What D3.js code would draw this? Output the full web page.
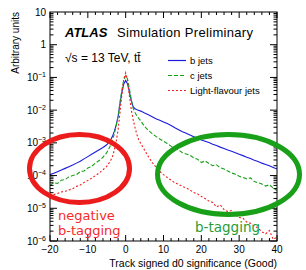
<!DOCTYPE html>
<html>
<head>
<meta charset="utf-8">
<script src="https://cdn.jsdelivr.net/npm/d3@7"></script>
<style>
body { margin: 0; background: #fff; }
text { font-family: "Liberation Sans", Arial, sans-serif; }
</style>
</head>
<body>
<script>
var width = 306;
var height = 270;

// track signed d0 significance, bin positions
var d0 = [-20,-19,-18,-17,-16,-15,-14,-13,-12,-11,-10,-9,-8,-7,-6,-5,-4,
  -3.5,-3,-2.5,-2,-1.5,-1,-0.5,0,0.5,1,1.5,2,2.5,3,3.5,
  4,5,6,7,8,9,10,11,12,13,14,15,16,17,18,19,20,21,22,23,24,25,26,27,28,29,30,31,32,33,34,35,36,37,38,39,40];

var bJets = [1.07e-4,1.17e-4,1.32e-4,1.48e-4,1.66e-4,1.86e-4,2.09e-4,2.40e-4,2.75e-4,3.24e-4,3.80e-4,4.47e-4,5.25e-4,6.17e-4,7.24e-4,8.71e-4,1.20e-3,
  1.58e-3,2.24e-3,3.55e-3,6.31e-3,1.58e-2,3.55e-2,6.31e-2,8.13e-2,6.31e-2,3.55e-2,1.91e-2,1.26e-2,1.10e-2,1.02e-2,9.77e-3,
  9.33e-3,8.13e-3,7.24e-3,6.31e-3,5.50e-3,4.90e-3,4.37e-3,3.89e-3,3.39e-3,2.88e-3,2.51e-3,2.19e-3,1.95e-3,1.74e-3,1.55e-3,1.38e-3,1.23e-3,1.12e-3,1.02e-3,9.12e-4,8.32e-4,7.41e-4,6.76e-4,6.03e-4,5.50e-4,5.01e-4,4.47e-4,4.07e-4,3.63e-4,3.31e-4,2.95e-4,2.69e-4,2.40e-4,2.19e-4,2.00e-4,1.78e-4,1.58e-4];

var cJets = [5.01e-5,6.03e-5,5.75e-5,7.24e-5,7.59e-5,9.12e-5,1.00e-4,1.07e-4,1.32e-4,1.38e-4,1.70e-4,1.91e-4,2.40e-4,2.88e-4,3.63e-4,5.01e-4,8.32e-4,
  1.20e-3,1.91e-3,3.31e-3,6.61e-3,1.74e-2,4.17e-2,8.32e-2,1.15e-1,8.91e-2,4.47e-2,2.00e-2,1.12e-2,8.32e-3,6.61e-3,5.50e-3,
  4.68e-3,3.16e-3,2.40e-3,1.91e-3,1.58e-3,1.32e-3,1.12e-3,9.55e-4,7.94e-4,6.76e-4,6.03e-4,5.01e-4,4.57e-4,4.17e-4,3.47e-4,3.16e-4,2.51e-4,2.82e-4,2.34e-4,2.00e-4,2.14e-4,1.74e-4,1.58e-4,1.38e-4,1.20e-4,1.10e-4,9.55e-5,8.71e-5,7.94e-5,8.51e-5,6.61e-5,6.03e-5,5.50e-5,4.79e-5,5.25e-5,4.17e-5,3.47e-5];

var lightJets = [2.29e-5,2.63e-5,2.82e-5,3.16e-5,3.31e-5,3.63e-5,3.98e-5,4.68e-5,5.13e-5,6.17e-5,7.08e-5,8.32e-5,1.00e-4,1.20e-4,1.51e-4,1.91e-4,2.82e-4,
  3.80e-4,6.03e-4,1.12e-3,2.51e-3,8.32e-3,3.02e-2,8.91e-2,1.38e-1,7.94e-2,2.63e-2,1.00e-2,5.01e-3,2.82e-3,1.74e-3,1.20e-3,
  9.55e-4,6.03e-4,3.80e-4,2.51e-4,1.82e-4,1.35e-4,1.07e-4,8.71e-5,7.24e-5,6.03e-5,5.37e-5,4.68e-5,4.17e-5,3.63e-5,3.02e-5,2.75e-5,2.29e-5,2.00e-5,1.66e-5,1.51e-5,1.10e-5,1.26e-5,9.12e-6,7.94e-6,8.51e-6,6.31e-6,5.25e-6,5.01e-6,3.80e-6,3.47e-6,2.82e-6,2.51e-6,1.91e-6,1.66e-6,2.09e-6,1.12e-6,1.32e-6];

var xTicks = [-20, -10, 0, 10, 20, 30, 40];
var yTicks = [10, 1, 1e-1, 1e-2, 1e-3, 1e-4, 1e-5, 1e-6];
var yTickLabels = ["10", "1", "-1", "-2", "-3", "-4", "-5", "-6"];

var legendNames = ["b jets", "c jets", "Light-flavour jets"];
var legendColors = ["#1a1ae0", "#17a117", "#f01e1e"];
var legendDash = ["none", "4,2", "2,2"];

var svg = d3.select("body")
  .append("svg")
  .attr("width", width)
  .attr("height", height);

var pLeft = 50, pRight = 277, pTop = 12, pBottom = 241;

var x = d3.scaleLinear().domain([-20, 40]).range([pLeft, pRight]);
var y = d3.scaleLog().domain([1e-6, 10]).range([pBottom, pTop]);

svg.append("clipPath").attr("id", "clip")
  .append("rect").attr("x", pLeft).attr("y", pTop)
  .attr("width", pRight - pLeft).attr("height", pBottom - pTop);

// curves
var series = [bJets, cJets, lightJets];
series.forEach(function(vals, i) {
  var line = d3.line()
    .x(function(d, j) { return x(d0[j]); })
    .y(function(d) { return y(d); });
  svg.append("path")
    .datum(vals)
    .attr("clip-path", "url(#clip)")
    .attr("d", line)
    .style("fill", "none")
    .style("stroke", legendColors[i])
    .style("stroke-width", 1.1)
    .style("stroke-dasharray", legendDash[i]);
});

// frame
svg.append("rect")
  .attr("x", pLeft).attr("y", pTop)
  .attr("width", pRight - pLeft).attr("height", pBottom - pTop)
  .style("fill", "none").style("stroke", "#000").style("stroke-width", 1);

// x ticks (inside, bottom and top)
var xMinor = d3.range(-20, 40.1, 2);
xMinor.forEach(function(v) {
  var major = (v % 10 === 0);
  var len = major ? 6 : 3;
  svg.append("line").attr("x1", x(v)).attr("x2", x(v))
    .attr("y1", pBottom).attr("y2", pBottom - len).style("stroke", "#000");
  svg.append("line").attr("x1", x(v)).attr("x2", x(v))
    .attr("y1", pTop).attr("y2", pTop + len).style("stroke", "#000");
});

// y ticks (log, inside, left and right)
for (var e = -6; e <= 0; e++) {
  for (var m = 1; m <= 9; m++) {
    var v = m * Math.pow(10, e);
    var len = (m === 1) ? 7 : 3.5;
    svg.append("line").attr("x1", pLeft).attr("x2", pLeft + len)
      .attr("y1", y(v)).attr("y2", y(v)).style("stroke", "#000");
    svg.append("line").attr("x1", pRight).attr("x2", pRight - len)
      .attr("y1", y(v)).attr("y2", y(v)).style("stroke", "#000");
  }
}

// x tick labels
svg.selectAll(".xl")
  .data(xTicks)
  .enter()
  .append("text")
  .attr("x", function(d) { return x(d); })
  .attr("y", 253)
  .attr("text-anchor", "middle")
  .style("font-size", "10px")
  .text(function(d) { return d < 0 ? "\u2212" + (-d) : d; });

// y tick labels
yTicks.forEach(function(v, i) {
  var t = svg.append("text")
    .attr("x", 46)
    .attr("y", y(v) + 3.5)
    .attr("text-anchor", "end")
    .style("font-size", "10px");
  if (i < 2) {
    t.text(yTickLabels[i]);
  } else {
    t.text("10");
    t.append("tspan").attr("dy", -4).style("font-size", "7px")
      .text("\u2212" + yTickLabels[i].slice(1));
  }
});

// axis titles
svg.append("text")
  .attr("transform", "translate(18.5," + pTop + ") rotate(-90)")
  .attr("text-anchor", "end")
  .style("font-size", "10px")
  .text("Arbitrary units");

svg.append("text")
  .attr("x", pRight).attr("y", 267)
  .attr("text-anchor", "end")
  .style("font-size", "10.5px")
  .text("Track signed d0 significance (Good)");

// ATLAS label
var atlas = svg.append("text").attr("x", 65).attr("y", 37).style("font-size", "13px");
atlas.append("tspan").style("font-weight", "bold").style("font-style", "italic").text("ATLAS");
atlas.append("tspan").attr("x", 117).attr("textLength", 136).text("Simulation Preliminary");

var energy = svg.append("text").attr("x", 65).attr("y", 62).style("font-size", "12px");
energy.append("tspan").text("\u221As = 13 TeV, t");
energy.append("tspan").text("t\u0304");

// legend
legendNames.forEach(function(name, i) {
  var ly = 60.5 + i * 15;
  svg.append("line")
    .attr("x1", 168).attr("x2", 186)
    .attr("y1", ly).attr("y2", ly)
    .style("stroke", legendColors[i])
    .style("stroke-width", 1.2)
    .style("stroke-dasharray", legendDash[i]);
  svg.append("text")
    .attr("x", 190).attr("y", ly + 3.3)
    .style("font-size", "9.5px")
    .text(name);
});

// highlight ellipses
svg.append("ellipse")
  .attr("cx", 79.5).attr("cy", 168.5).attr("rx", 50).attr("ry", 34)
  .style("fill", "none").style("stroke", "#ec1c1c").style("stroke-width", 5);

svg.append("ellipse")
  .attr("cx", 228.5).attr("cy", 174.5).attr("rx", 71).attr("ry", 40)
  .style("fill", "none").style("stroke", "#18a018").style("stroke-width", 5);

svg.append("text").attr("x", 58).attr("y", 220)
  .style("font-family", "DejaVu Sans").style("font-size", "13px")
  .style("fill", "#f52a2a").text("negative");
svg.append("text").attr("x", 58).attr("y", 235)
  .style("font-family", "DejaVu Sans").style("font-size", "13px")
  .style("fill", "#f52a2a").text("b-tagging");
svg.append("text").attr("x", 195).attr("y", 232)
  .style("font-family", "DejaVu Sans").style("font-size", "13.5px")
  .style("fill", "#1f9d3a").text("b-tagging");
</script>
</body>
</html>
